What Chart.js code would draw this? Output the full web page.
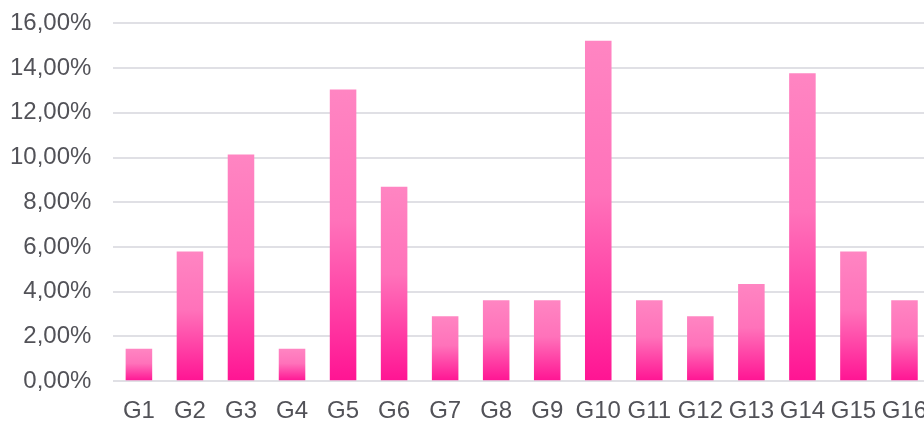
<!DOCTYPE html>
<html>
<head>
<meta charset="utf-8">
<script src="https://cdn.jsdelivr.net/npm/chart.js@4/dist/chart.umd.min.js"></script>
<style>
  html, body { margin: 0; padding: 0; background: #ffffff; overflow: hidden; }
  body { width: 924px; height: 421px; position: relative; }
  #wrap { width: 985px; height: 455px; position: absolute; left: -25px; top: -13px; }
</style>
</head>
<body>
<div id="wrap"><canvas id="c"></canvas></div>
<script>
// Group labels along the category axis
const categories = ['G1', 'G2', 'G3', 'G4', 'G5', 'G6', 'G7', 'G8',
                    'G9', 'G10', 'G11', 'G12', 'G13', 'G14', 'G15', 'G16'];

// Share of each group, in percent
const shares = [1.45, 5.80, 10.14, 1.45, 13.04, 8.70, 2.90, 3.62,
                3.62, 15.22, 3.62, 2.90, 4.35, 13.77, 5.80, 3.62];

// Value axis range and step, in percent
const axisMin = 0;
const axisMax = 16;
const axisStep = 2;

const textColor = '#525258';
const fontFamily = '"Liberation Sans", Arial, sans-serif';

// Vertical gradient for each bar, light at its top, deep pink at its base
function barGradient(ctx) {
  const chart = ctx.chart;
  const y = chart.scales && chart.scales.y;
  if (!chart.chartArea || !y || ctx.raw === undefined) return '#ff6cb6';
  const top = y.getPixelForValue(ctx.raw);
  const base = y.getPixelForValue(0);
  const g = chart.ctx.createLinearGradient(0, top, 0, base);
  g.addColorStop(0, '#ff85c2');
  g.addColorStop(0.45, '#ff72ba');
  g.addColorStop(1, '#ff1493');
  return g;
}

new Chart(document.getElementById('c'), {
  type: 'bar',
  data: {
    labels: categories,
    datasets: [{
      data: shares,
      backgroundColor: barGradient,
      borderWidth: 0,
      barPercentage: 0.52,
      categoryPercentage: 1.0
    }]
  },
  options: {
    responsive: true,
    maintainAspectRatio: false,
    animation: false,
    layout: { padding: { left: 13, right: 30, top: 22, bottom: 0 } },
    plugins: {
      legend: { display: false },
      tooltip: { enabled: false }
    },
    scales: {
      x: {
        grid: { display: false, drawTicks: false },
        border: { display: false },
        ticks: {
          color: textColor,
          font: { family: fontFamily, size: 24 },
          padding: 16,
          maxRotation: 0,
          autoSkip: false
        }
      },
      y: {
        min: axisMin,
        max: axisMax,
        grid: { color: '#e0e0e5', lineWidth: 2, drawTicks: false },
        border: { display: false },
        ticks: {
          stepSize: axisStep,
          color: textColor,
          font: { family: fontFamily, size: 24 },
          padding: 22,
          callback: v => v.toFixed(2).replace('.', ',') + '%'
        }
      }
    }
  }
});
</script>
</body>
</html>
